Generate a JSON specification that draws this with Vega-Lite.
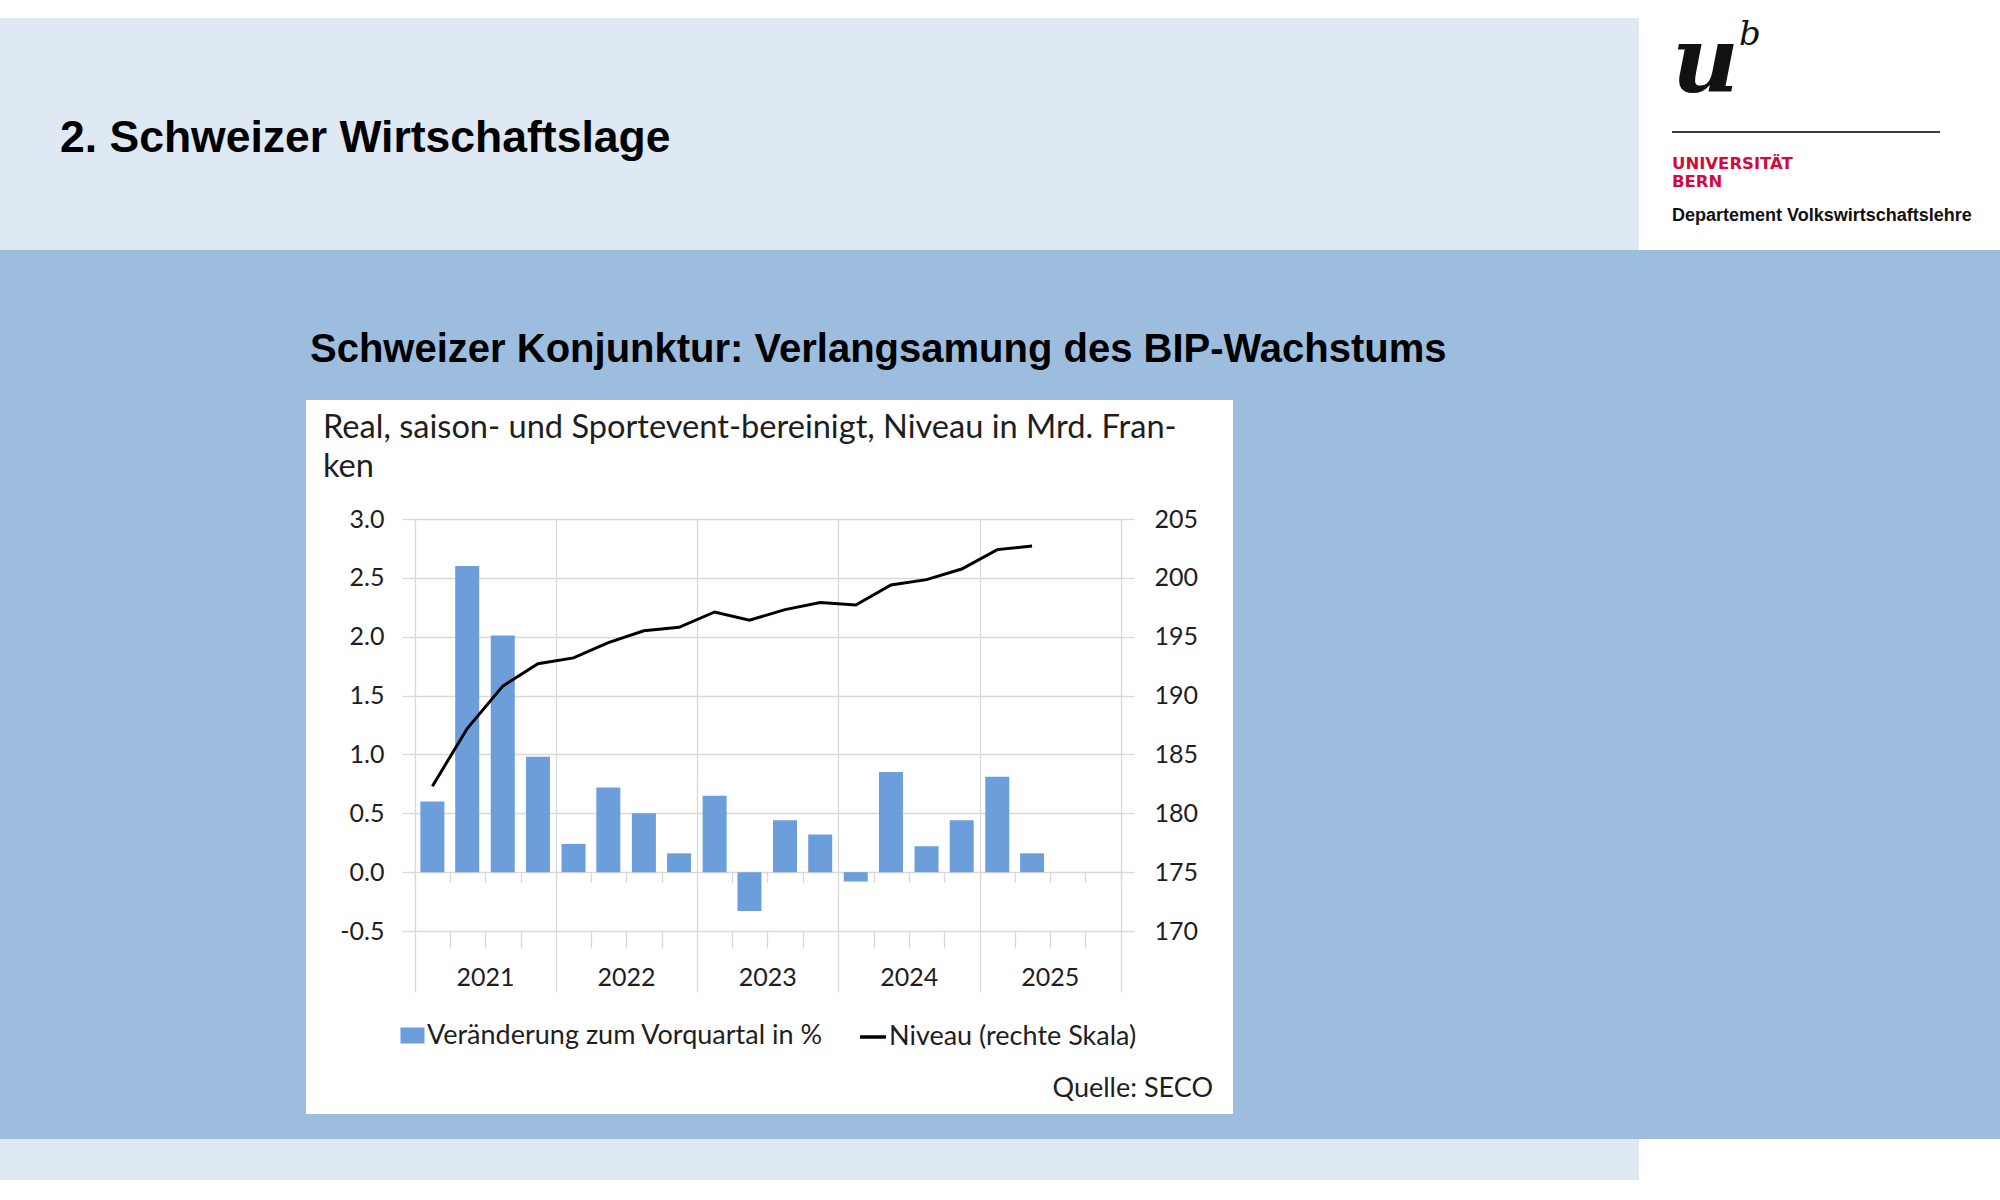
{
  "$schema": "https://vega.github.io/schema/vega-lite/v6.json",
  "background": "#ffffff",
  "padding": {"top": 18, "left": 0, "right": 0, "bottom": 0},
  "spacing": 0,
  "resolve": {"scale": {"fill": "independent", "stroke": "independent"}},
  "config": {
    "view": {"stroke": null},
    "concat": {"spacing": 0},
    "legend": {"layout": {"bottom": {"anchor": "middle", "margin": 34}}}
  },
  "vconcat": [
    {
      "spacing": 33,
      "hconcat": [
        {
          "width": 1639,
          "height": 232,
          "view": {"fill": "#dfe9f4", "stroke": null},
          "title": {"text": "2. Schweizer Wirtschaftslage", "anchor": "start", "frame": "group", "baseline": "alphabetic", "offset": -178.5, "dx": 60, "font": "Liberation Sans", "fontSize": 44.5, "fontWeight": "bold", "color": "#000000"},
          "data": {"values": []},
          "mark": {"type": "text", "text": ""}
        },
        {
          "spacing": 0,
          "vconcat": [
            {
              "spacing": 0,
              "hconcat": [
                {
                  "width": 65,
                  "height": 113,
                  "title": {"text": "u", "anchor": "start", "frame": "group", "baseline": "alphabetic", "offset": -166, "font": "DejaVu Serif", "fontStyle": "italic", "fontSize": 92, "fontWeight": "bold", "color": "#111111"},
                  "data": {"values": []},
                  "mark": {"type": "text", "text": ""}
                },
                {
                  "width": 30,
                  "height": 113,
                  "title": {"text": "b", "anchor": "start", "frame": "group", "baseline": "alphabetic", "offset": -61, "font": "DejaVu Serif", "fontStyle": "italic", "fontSize": 34, "fontWeight": "normal", "color": "#111111"},
                  "data": {"values": []},
                  "mark": {"type": "text", "text": ""}
                }
              ]
            },
            {
              "width": 268,
              "height": 2,
              "view": {"fill": "#3c3c3c", "stroke": null},
              "data": {"values": []},
              "mark": {"type": "text", "text": ""}
            },
            {
              "width": 268,
              "height": 117,
              "title": {
                "text": ["UNIVERSITÄT", "BERN"],
                "anchor": "start", "frame": "group", "baseline": "alphabetic", "offset": -105,
                "font": "DejaVu Sans", "fontSize": 16.5, "fontWeight": "bold", "color": "#d20a3c", "lineHeight": 18,
                "subtitle": "Departement Volkswirtschaftslehre",
                "subtitleFont": "Liberation Sans", "subtitleFontSize": 18, "subtitleFontWeight": "bold", "subtitleColor": "#111111", "subtitlePadding": 17.5
              },
              "data": {"values": []},
              "mark": {"type": "text", "text": ""}
            }
          ]
        }
      ]
    },
    {
      "width": 2000,
      "height": 150,
      "view": {"fill": "#9dbddf", "stroke": null},
      "title": {"text": "Schweizer Konjunktur: Verlangsamung des BIP-Wachstums", "anchor": "start", "frame": "group", "baseline": "alphabetic", "offset": -152, "dx": 310, "font": "Liberation Sans", "fontSize": 40, "fontWeight": "bold", "color": "#000000"},
      "data": {"values": []},
      "mark": {"type": "text", "text": ""}
    },
    {
      "spacing": 0,
      "resolve": {"scale": {"fill": "independent", "stroke": "independent"}},
      "hconcat": [
        {
          "width": 306,
          "height": 714,
          "view": {"fill": "#9dbddf", "stroke": null},
          "data": {"values": []},
          "mark": {"type": "text", "text": ""}
        },
        {
          "spacing": 0,
          "resolve": {"scale": {"fill": "independent", "stroke": "independent"}},
          "vconcat": [
            {
              "width": 823,
              "height": 107,
              "title": {
                "text": ["Real, saison- und Sportevent-bereinigt, Niveau in Mrd. Fran-", "ken"],
                "anchor": "start", "frame": "group", "baseline": "alphabetic", "offset": -109.6, "dx": -87,
                "font": "Lato", "fontSize": 32.6, "fontWeight": "normal", "color": "#1e1e1e", "lineHeight": 39
              },
              "data": {"values": []},
              "mark": {"type": "text", "text": ""}
            },
            {
              "width": 716,
              "height": 412,
              "data": {
                "values": [
                  {"quartal": "2021-02-15", "veraenderung": 0.6, "niveau": 182.3},
                  {"quartal": "2021-05-16", "veraenderung": 2.6, "niveau": 187.2},
                  {"quartal": "2021-08-16", "veraenderung": 2.01, "niveau": 190.8},
                  {"quartal": "2021-11-15", "veraenderung": 0.98, "niveau": 192.7},
                  {"quartal": "2022-02-15", "veraenderung": 0.24, "niveau": 193.2},
                  {"quartal": "2022-05-16", "veraenderung": 0.72, "niveau": 194.5},
                  {"quartal": "2022-08-16", "veraenderung": 0.5, "niveau": 195.5},
                  {"quartal": "2022-11-15", "veraenderung": 0.16, "niveau": 195.8},
                  {"quartal": "2023-02-15", "veraenderung": 0.65, "niveau": 197.1},
                  {"quartal": "2023-05-16", "veraenderung": -0.33, "niveau": 196.4},
                  {"quartal": "2023-08-16", "veraenderung": 0.44, "niveau": 197.3},
                  {"quartal": "2023-11-15", "veraenderung": 0.32, "niveau": 197.9},
                  {"quartal": "2024-02-15", "veraenderung": -0.08, "niveau": 197.7},
                  {"quartal": "2024-05-16", "veraenderung": 0.85, "niveau": 199.4},
                  {"quartal": "2024-08-16", "veraenderung": 0.22, "niveau": 199.85},
                  {"quartal": "2024-11-15", "veraenderung": 0.44, "niveau": 200.75},
                  {"quartal": "2025-02-15", "veraenderung": 0.81, "niveau": 202.4},
                  {"quartal": "2025-05-16", "veraenderung": 0.16, "niveau": 202.7}
                ]
              },
              "resolve": {"scale": {"y": "independent"}, "axis": {"x": "independent"}},
              "layer": [
                {
                  "mark": {"type": "bar", "width": 24},
                  "encoding": {
                    "x": {
                      "field": "quartal",
                      "type": "temporal",
                      "scale": {"type": "utc", "domain": [{"year": 2021, "month": 1, "date": 1, "utc": true}, {"year": 2026, "month": 1, "date": 1, "utc": true}]},
                      "axis": {
                        "orient": "bottom",
                        "title": null,
                        "values": [
                          {"year": 2021, "month": 1, "date": 1, "utc": true}, {"year": 2021, "month": 4, "date": 1, "utc": true}, {"year": 2021, "month": 7, "date": 1, "utc": true}, {"year": 2021, "month": 10, "date": 1, "utc": true},
                          {"year": 2022, "month": 1, "date": 1, "utc": true}, {"year": 2022, "month": 4, "date": 1, "utc": true}, {"year": 2022, "month": 7, "date": 1, "utc": true}, {"year": 2022, "month": 10, "date": 1, "utc": true},
                          {"year": 2023, "month": 1, "date": 1, "utc": true}, {"year": 2023, "month": 4, "date": 1, "utc": true}, {"year": 2023, "month": 7, "date": 1, "utc": true}, {"year": 2023, "month": 10, "date": 1, "utc": true},
                          {"year": 2024, "month": 1, "date": 1, "utc": true}, {"year": 2024, "month": 4, "date": 1, "utc": true}, {"year": 2024, "month": 7, "date": 1, "utc": true}, {"year": 2024, "month": 10, "date": 1, "utc": true},
                          {"year": 2025, "month": 1, "date": 1, "utc": true}, {"year": 2025, "month": 4, "date": 1, "utc": true}, {"year": 2025, "month": 7, "date": 1, "utc": true}, {"year": 2025, "month": 10, "date": 1, "utc": true},
                          {"year": 2026, "month": 1, "date": 1, "utc": true}
                        ],
                        "domain": false,
                        "grid": true,
                        "gridColor": "#d9d9d9",
                        "gridWidth": 1.3,
                        "gridOpacity": {"condition": {"test": "utcmonth(datum.value) === 0", "value": 1}, "value": 0},
                        "tickColor": "#d9d9d9",
                        "tickWidth": 1.3,
                        "tickSize": {"condition": {"test": "utcmonth(datum.value) === 0", "value": 61}, "value": 17},
                        "labelExpr": "utcmonth(datum.value) === 6 ? utcFormat(datum.value, '%Y') : ''",
                        "labelFont": "Lato",
                        "labelFontSize": 25,
                        "labelColor": "#1e1e1e",
                        "labelPadding": 17,
                        "labelOverlap": false,
                        "labelFlush": false
                      }
                    },
                    "y": {
                      "field": "veraenderung",
                      "type": "quantitative",
                      "scale": {"domain": [-0.5, 3], "nice": false, "zero": false},
                      "axis": {
                        "orient": "left",
                        "title": null,
                        "values": [-0.5, 0, 0.5, 1, 1.5, 2, 2.5, 3],
                        "labelExpr": "replace(format(datum.value, '.1f'), '−', '-')",
                        "grid": true,
                        "gridColor": "#d9d9d9",
                        "gridWidth": 1.3,
                        "domain": false,
                        "tickSize": 8,
                        "tickColor": "#d9d9d9",
                        "tickWidth": 1.3,
                        "labelPadding": 18,
                        "labelFont": "Lato",
                        "labelFontSize": 25,
                        "labelColor": "#1e1e1e",
                        "minExtent": 104
                      }
                    },
                    "fill": {
                      "datum": "Veränderung zum Vorquartal in %",
                      "type": "nominal",
                      "scale": {"range": ["#6b9edb"]},
                      "legend": {
                        "orient": "bottom", "direction": "horizontal", "title": null,
                        "symbolType": "M-1,-0.667L1,-0.667L1,0.667L-1,0.667Z", "symbolSize": 576, "symbolStrokeWidth": 0,
                        "labelFont": "Lato", "labelFontSize": 27, "labelColor": "#1e1e1e", "labelLimit": 0, "labelOffset": 1,
                        "offset": -12
                      }
                    }
                  }
                },
                {
                  "mark": {"type": "line", "strokeWidth": 3},
                  "encoding": {
                    "x": {
                      "field": "quartal",
                      "type": "temporal",
                      "axis": {
                        "orient": "bottom",
                        "title": null,
                        "values": [
                          {"year": 2021, "month": 1, "date": 1, "utc": true}, {"year": 2021, "month": 4, "date": 1, "utc": true}, {"year": 2021, "month": 7, "date": 1, "utc": true}, {"year": 2021, "month": 10, "date": 1, "utc": true},
                          {"year": 2022, "month": 1, "date": 1, "utc": true}, {"year": 2022, "month": 4, "date": 1, "utc": true}, {"year": 2022, "month": 7, "date": 1, "utc": true}, {"year": 2022, "month": 10, "date": 1, "utc": true},
                          {"year": 2023, "month": 1, "date": 1, "utc": true}, {"year": 2023, "month": 4, "date": 1, "utc": true}, {"year": 2023, "month": 7, "date": 1, "utc": true}, {"year": 2023, "month": 10, "date": 1, "utc": true},
                          {"year": 2024, "month": 1, "date": 1, "utc": true}, {"year": 2024, "month": 4, "date": 1, "utc": true}, {"year": 2024, "month": 7, "date": 1, "utc": true}, {"year": 2024, "month": 10, "date": 1, "utc": true},
                          {"year": 2025, "month": 1, "date": 1, "utc": true}, {"year": 2025, "month": 4, "date": 1, "utc": true}, {"year": 2025, "month": 7, "date": 1, "utc": true}, {"year": 2025, "month": 10, "date": 1, "utc": true},
                          {"year": 2026, "month": 1, "date": 1, "utc": true}
                        ],
                        "offset": -58.86,
                        "domain": false,
                        "grid": false,
                        "labels": false,
                        "tickSize": 10,
                        "tickColor": "#d9d9d9",
                        "tickWidth": 1.3
                      }
                    },
                    "y": {
                      "field": "niveau",
                      "type": "quantitative",
                      "scale": {"domain": [170, 205], "nice": false, "zero": false},
                      "axis": {
                        "orient": "right",
                        "title": null,
                        "values": [170, 175, 180, 185, 190, 195, 200, 205],
                        "grid": false,
                        "domain": false,
                        "tickSize": 8,
                        "tickColor": "#d9d9d9",
                        "tickWidth": 1.3,
                        "labelPadding": 20,
                        "labelFont": "Lato",
                        "labelFontSize": 25,
                        "labelColor": "#1e1e1e",
                        "minExtent": 107
                      }
                    },
                    "stroke": {
                      "datum": "Niveau (rechte Skala)",
                      "type": "nominal",
                      "scale": {"range": ["#000000"]},
                      "legend": {
                        "orient": "bottom", "direction": "horizontal", "title": null,
                        "symbolType": "stroke", "symbolSize": 676, "symbolStrokeWidth": 3.5,
                        "labelFont": "Lato", "labelFontSize": 27, "labelColor": "#1e1e1e", "labelLimit": 0, "labelOffset": 1,
                        "offset": -12
                      }
                    }
                  }
                }
              ]
            },
            {
              "width": 823,
              "height": 63,
              "title": {"text": "Quelle: SECO", "anchor": "end", "frame": "group", "baseline": "alphabetic", "offset": -74, "dx": -20, "font": "Lato", "fontSize": 27, "fontWeight": "normal", "color": "#1e1e1e"},
              "data": {"values": []},
              "mark": {"type": "text", "text": ""}
            }
          ]
        },
        {
          "width": 767,
          "height": 714,
          "view": {"fill": "#9dbddf", "stroke": null},
          "data": {"values": []},
          "mark": {"type": "text", "text": ""}
        }
      ]
    },
    {
      "width": 2000,
      "height": 25,
      "view": {"fill": "#9dbddf", "stroke": null},
      "data": {"values": []},
      "mark": {"type": "text", "text": ""}
    },
    {
      "width": 1639,
      "height": 41,
      "view": {"fill": "#dfe9f4", "stroke": null},
      "data": {"values": []},
      "mark": {"type": "text", "text": ""}
    }
  ]
}
